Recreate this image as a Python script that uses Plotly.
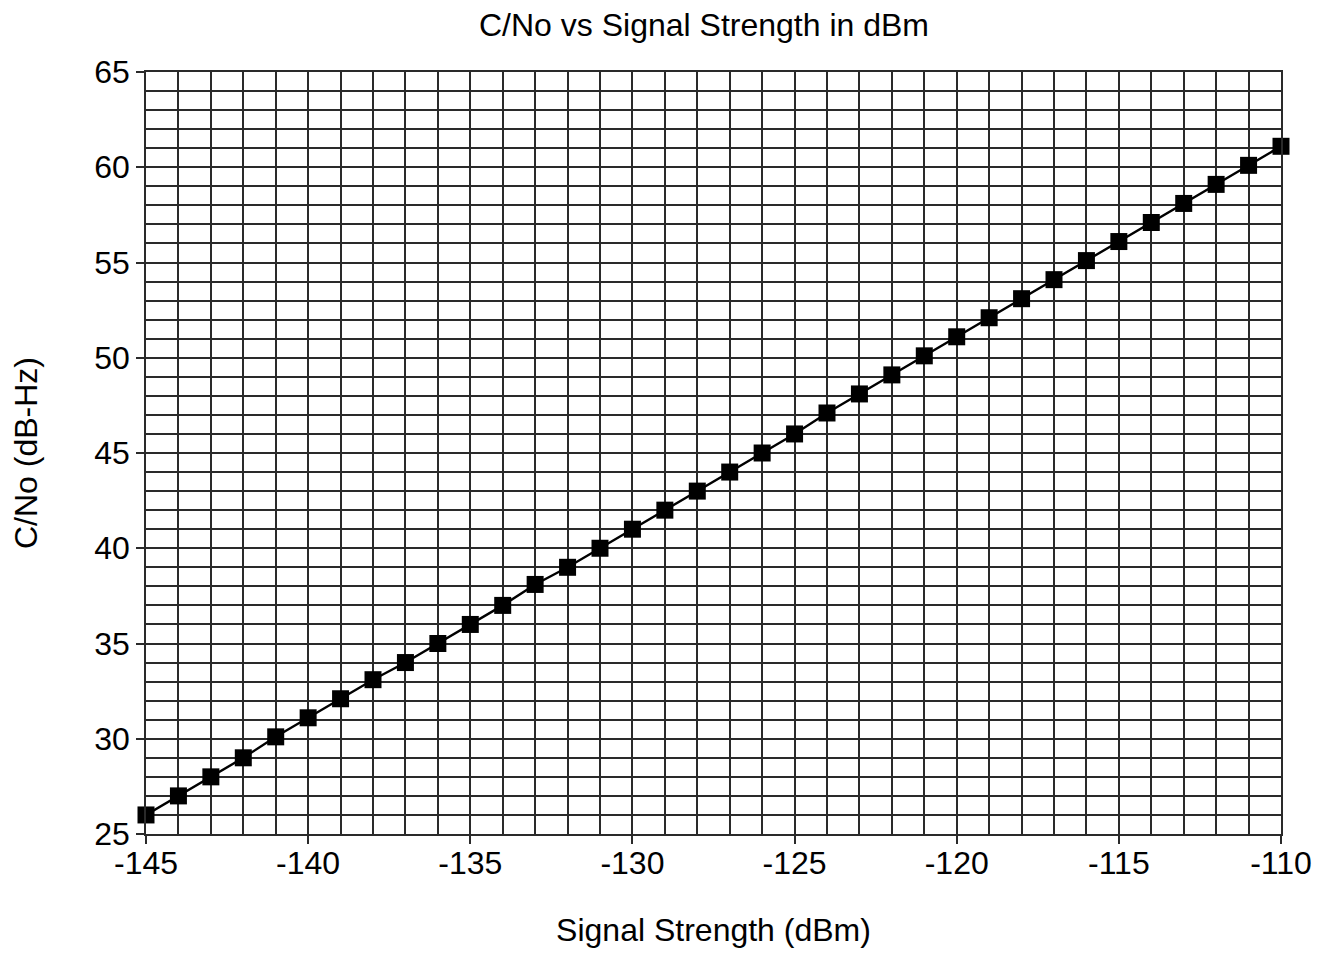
import plotly.graph_objects as go

signal_dbm = [-145, -144, -143, -142, -141, -140, -139, -138, -137, -136,
              -135, -134, -133, -132, -131, -130, -129, -128, -127, -126,
              -125, -124, -123, -122, -121, -120, -119, -118, -117, -116,
              -115, -114, -113, -112, -111, -110]
cno_dbhz = [26.0, 27.0, 28.0, 29.0, 30.1, 31.1, 32.1, 33.1, 34.0, 35.0,
            36.0, 37.0, 38.1, 39.0, 40.0, 41.0, 42.0, 43.0, 44.0, 45.0,
            46.0, 47.1, 48.1, 49.1, 50.1, 51.1, 52.1, 53.1, 54.1, 55.1,
            56.1, 57.1, 58.1, 59.1, 60.1, 61.1]

x_tickvals = [-145, -140, -135, -130, -125, -120, -115, -110]
x_ticktext = ["-145", "-140", "-135", "-130", "-125", "-120", "-115", "-110"]
y_tickvals = [25, 30, 35, 40, 45, 50, 55, 60, 65]
y_ticktext = ["25", "30", "35", "40", "45", "50", "55", "60", "65"]

title_text = "C/No vs Signal Strength in dBm"
x_title = "Signal Strength (dBm)"
y_title = "C/No (dB-Hz)"

GRID = "#2a2a2a"
GW = 1.5
FONT = "Liberation Sans, Arial, sans-serif"

fig = go.Figure()
fig.add_trace(go.Scatter(
    x=signal_dbm, y=cno_dbhz, mode="lines+markers",
    line=dict(color="black", width=2.4),
    marker=dict(symbol="square", size=17, color="black"),
    showlegend=False, cliponaxis=False,
))

W, H = 1316, 946
fig.update_layout(
    width=W, height=H,
    paper_bgcolor="white", plot_bgcolor="white",
    margin=dict(l=138, r=41, t=64, b=117),
    font=dict(family=FONT, size=32, color="black"),
    title=dict(text=title_text, x=(704 - 8) / W, xanchor="center",
               xref="container",
               y=1 - 17 / H, yanchor="middle", yref="container",
               font=dict(size=32)),
    xaxis=dict(
        range=[-145, -110],
        tickmode="array", tickvals=x_tickvals, ticktext=x_ticktext,
        showgrid=True, gridcolor=GRID, gridwidth=GW,
        minor=dict(dtick=1, tick0=-145, showgrid=True, gridcolor=GRID, gridwidth=GW, ticks=""),
        ticks="outside", ticklen=8, tickcolor=GRID, tickwidth=GW,
        showline=True, linecolor=GRID, linewidth=GW, mirror=True,
        zeroline=False,
        tickfont=dict(size=32), ticklabelstandoff=-8,
        title=dict(text=x_title, font=dict(size=32), standoff=38),
    ),
    yaxis=dict(
        range=[25, 65],
        tickmode="array", tickvals=y_tickvals, ticktext=y_ticktext,
        showgrid=True, gridcolor=GRID, gridwidth=GW,
        minor=dict(dtick=1, tick0=25, showgrid=True, gridcolor=GRID, gridwidth=GW, ticks=""),
        ticks="outside", ticklen=8, tickcolor=GRID, tickwidth=GW,
        showline=True, linecolor=GRID, linewidth=GW, mirror=True,
        zeroline=False,
        tickfont=dict(size=32),
        title=dict(text=y_title, font=dict(size=32), standoff=48),
    ),
)

fig.write_html("out.html")
